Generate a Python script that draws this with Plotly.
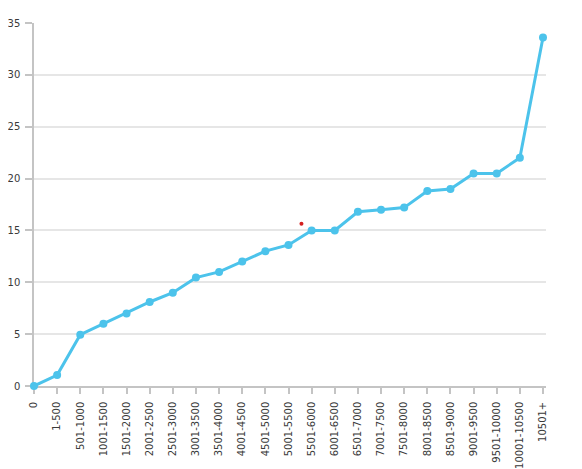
import plotly.graph_objects as go

categories = ["0", "1-500", "501-1000", "1001-1500", "1501-2000", "2001-2500",
              "2501-3000", "3001-3500", "3501-4000", "4001-4500", "4501-5000",
              "5001-5500", "5501-6000", "6001-6500", "6501-7000", "7001-7500",
              "7501-8000", "8001-8500", "8501-9000", "9001-9500", "9501-10000",
              "10001-10500", "10501+"]
values = [0, 1.05, 4.95, 6.0, 7.0, 8.1, 9.0, 10.45, 11.0, 12.0, 13.0, 13.6,
          15.0, 15.0, 16.8, 17.0, 17.2, 18.8, 19.0, 20.5, 20.5, 22.0, 33.6]
y_ticks = [0, 5, 10, 15, 20, 25, 30, 35]

# small stray red dot seen in the reference
dot_x = [11.56]
dot_y = [15.65]

xs = list(range(len(categories)))

fig = go.Figure()
fig.add_trace(go.Scatter(
    x=xs, y=values, mode="lines+markers",
    line=dict(color="#4cc3eb", width=3),
    marker=dict(color="#4cc3eb", size=8),
    cliponaxis=False, hoverinfo="skip", showlegend=False,
))
fig.add_trace(go.Scatter(
    x=dot_x, y=dot_y, mode="markers",
    marker=dict(color="#d42020", size=4),
    hoverinfo="skip", showlegend=False,
))

fig.update_layout(
    width=582, height=469,
    margin=dict(l=25.5, r=44, t=15, b=90.5, autoexpand=False),
    paper_bgcolor="white", plot_bgcolor="white",
    font=dict(family="DejaVu Sans", size=10, color="#3a3a3a"),
    xaxis=dict(
        range=[0, 22.13], tickmode="array", tickvals=xs, ticktext=categories,
        tickangle=-90, showgrid=False, zeroline=False, automargin=False,
        showline=True, linecolor="#c4c4c4", linewidth=1.5,
        ticks="outside", ticklen=6, tickcolor="#c4c4c4", tickwidth=1.5,
        ticklabelstandoff=4, layer="below traces",
    ),
    yaxis=dict(
        range=[0, 35], tickmode="array", tickvals=y_ticks, automargin=False,
        showgrid=True, gridcolor="#e6e6e6", gridwidth=1.5, zeroline=False,
        showline=True, linecolor="#c4c4c4", linewidth=1.5,
        ticks="outside", ticklen=7, tickcolor="#c4c4c4", tickwidth=1.5,
        ticklabelstandoff=3, layer="below traces",
    ),
)

fig.write_html("out.html")
